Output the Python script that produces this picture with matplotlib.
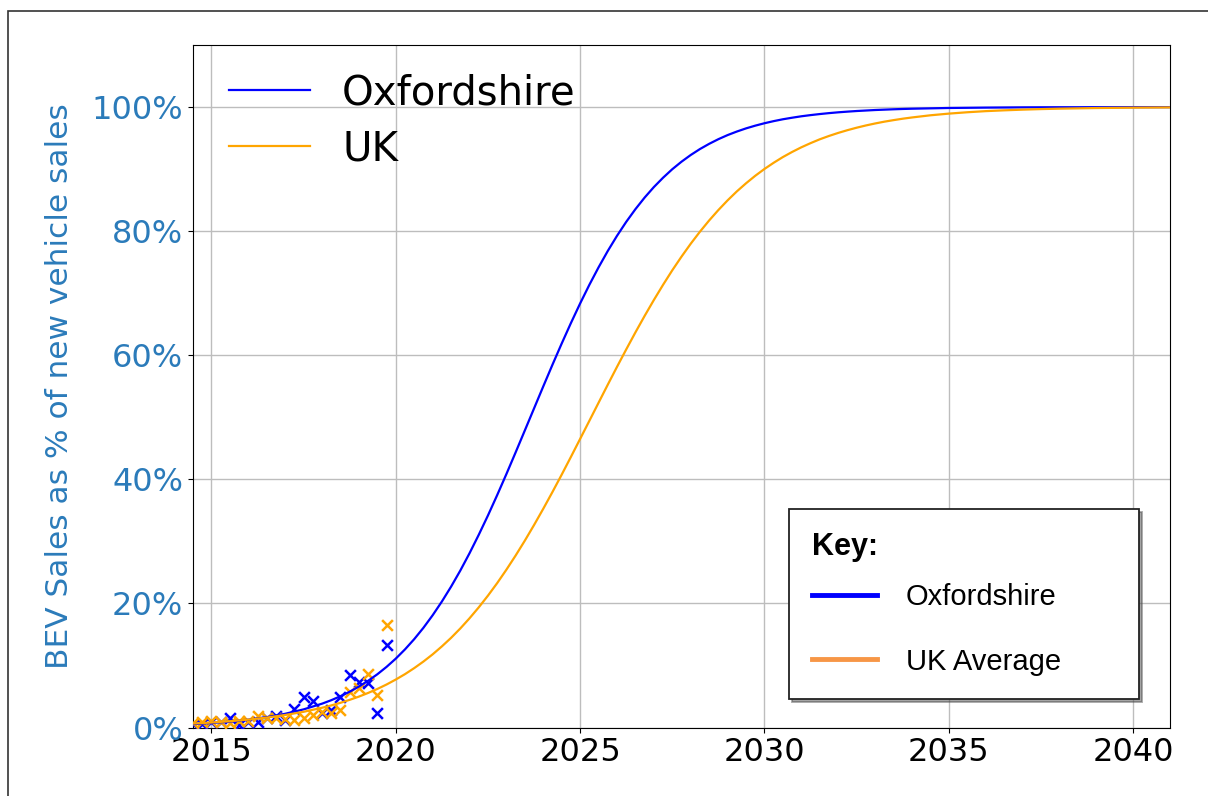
import matplotlib
matplotlib.use('Agg')
import matplotlib.pyplot as plt
from matplotlib.lines import Line2D
from matplotlib.patches import Rectangle
from matplotlib.ticker import PercentFormatter

# fitted S-curves (% of new vehicle sales)
curve_years = [2014.5, 2015.0, 2015.5, 2016.0, 2016.5, 2017.0, 2017.5, 2018.0,
               2018.25, 2018.5, 2018.75, 2019.0, 2019.25, 2019.5, 2019.75, 2020.0,
               2020.25, 2020.5, 2020.75, 2021.0, 2021.25, 2021.5, 2021.75, 2022.0,
               2022.25, 2022.5, 2022.75, 2023.0, 2023.25, 2023.5, 2023.75, 2024.0,
               2024.25, 2024.5, 2024.75, 2025.0, 2025.25, 2025.5, 2025.75, 2026.0,
               2026.25, 2026.5, 2026.75, 2027.0, 2027.25, 2027.5, 2027.75, 2028.0,
               2028.25, 2028.5, 2028.75, 2029.0, 2029.25, 2029.5, 2029.75, 2030.0,
               2030.25, 2030.5, 2030.75, 2031.0, 2031.25, 2031.5, 2031.75, 2032.0,
               2032.25, 2032.5, 2032.75, 2033.0, 2033.25, 2033.5, 2033.75, 2034.0,
               2034.5, 2035.0, 2035.5, 2036.0, 2036.5, 2037.0, 2037.5, 2038.0,
               2038.5, 2039.0, 2039.5, 2040.0, 2040.5, 2041.0]
oxon_curve = [0.54, 0.72, 0.95, 1.26, 1.67, 2.21, 2.92, 3.84,
              4.40, 5.04, 5.77, 6.60, 7.53, 8.58, 9.77, 11.10,
              12.59, 14.24, 16.07, 18.09, 20.30, 22.70, 25.29, 28.08,
              31.05, 34.17, 37.45, 40.84, 44.33, 47.87, 51.42, 54.97,
              58.47, 61.88, 65.18, 68.34, 71.34, 74.16, 76.80, 79.24,
              81.49, 83.54, 85.41, 87.10, 88.61, 89.98, 91.19, 92.27,
              93.23, 94.07, 94.82, 95.48, 96.05, 96.56, 97.00, 97.39,
              97.73, 98.03, 98.28, 98.51, 98.70, 98.87, 99.02, 99.15,
              99.26, 99.36, 99.44, 99.52, 99.58, 99.64, 99.69, 99.73,
              99.79, 99.85, 99.88, 99.91, 99.93, 99.95, 99.96, 99.97,
              99.97, 99.98, 99.98, 99.99, 99.99, 99.99]
uk_curve = [0.63, 0.80, 1.01, 1.27, 1.60, 2.02, 2.53, 3.18,
            3.56, 3.98, 4.46, 4.98, 5.57, 6.21, 6.93, 7.73,
            8.60, 9.57, 10.63, 11.79, 13.07, 14.45, 15.96, 17.60,
            19.36, 21.25, 23.27, 25.43, 27.71, 30.11, 32.63, 35.25,
            37.96, 40.75, 43.61, 46.51, 49.42, 52.34, 55.25, 58.12,
            60.93, 63.68, 66.34, 68.90, 71.35, 73.69, 75.89, 77.97,
            79.91, 81.72, 83.40, 84.96, 86.40, 87.71, 88.92, 90.02,
            91.02, 91.94, 92.76, 93.51, 94.18, 94.80, 95.34, 95.83,
            96.27, 96.67, 97.03, 97.35, 97.64, 97.89, 98.12, 98.32,
            98.67, 98.94, 99.16, 99.34, 99.47, 99.58, 99.67, 99.74,
            99.79, 99.84, 99.87, 99.90, 99.92, 99.94]

# quarterly observed shares
obs_years = [2014.5, 2014.75, 2015.0, 2015.25, 2015.5, 2015.75, 2016.0, 2016.25,
             2016.5, 2016.75, 2017.0, 2017.25, 2017.5, 2017.75, 2018.0, 2018.25,
             2018.5, 2018.75, 2019.0, 2019.25, 2019.5, 2019.75]
oxon_obs = [0.5, 0.6, 0.9, 0.9, 1.6, 0.4, 0.9, 0.9, 1.5, 1.8, 1.2,
            3.0, 4.9, 4.2, 2.4, 2.8, 4.9, 8.5, 7.4, 7.1, 2.4, 13.3]
uk_obs = [0.8, 0.9, 1.0, 0.9, 0.8, 1.0, 1.1, 1.9, 1.6, 1.5, 1.4,
          1.2, 1.5, 2.0, 2.5, 2.3, 2.8, 5.8, 6.3, 8.6, 5.2, 16.6]

x_ticks = [2015, 2020, 2025, 2030, 2035, 2040]
y_ticks = [0, 20, 40, 60, 80, 100]

W, H = 1208, 796
fig = plt.figure(figsize=(W / 100, H / 100), dpi=100)
ax = fig.add_axes([193 / W, 1 - 727.5 / H, 977 / W, 682.5 / H])

ax.scatter(obs_years, oxon_obs, marker='x', color='blue', s=60, linewidths=1.8, zorder=3)
ax.scatter(obs_years, uk_obs, marker='x', color='orange', s=60, linewidths=1.8, zorder=3)
l1, = ax.plot(curve_years, oxon_curve, color='blue', lw=1.6, label='Oxfordshire', zorder=4)
l2, = ax.plot(curve_years, uk_curve, color='orange', lw=1.6, label='UK', zorder=4)

ax.set_xlim(2014.5, 2041)
ax.set_ylim(0, 110)
ax.set_xticks(x_ticks)
ax.set_yticks(y_ticks)
ax.yaxis.set_major_formatter(PercentFormatter(100, decimals=0))
ax.grid(True, color='#bdbdbd', lw=1.0)
ax.set_axisbelow(True)
ax.tick_params(axis='x', labelsize=23)
ax.tick_params(axis='y', labelsize=23, labelcolor='#2b7bba')
ax.set_ylabel('BEV Sales as % of new vehicle sales', fontsize=22.5, color='#2b7bba', labelpad=12.5)

leg1 = ax.legend(handles=[l1, l2], loc='upper left', bbox_to_anchor=(0, 1 + 8 / 682.5),
                 fontsize=29, frameon=False, labelspacing=0.4)
ax.add_artist(leg1)

key_handles = [Line2D([], [], color='#0000ff', lw=3.5),
               Line2D([], [], color='#f79646', lw=3.5)]
key = ax.legend(key_handles, ['Oxfordshire', 'UK Average'],
                loc='lower left', bbox_to_anchor=((789 - 193) / 977, (727.5 - 699) / 682.5, 350 / 977, 0.2),
                mode='expand', borderaxespad=0, title='Key:', alignment='left',
                prop={'family': 'Liberation Sans', 'size': 21},
                title_fontproperties={'family': 'Liberation Sans', 'size': 22, 'weight': 'bold'},
                handlelength=2.2, handletextpad=1.0, borderpad=0.8, labelspacing=1.26,
                fancybox=False, shadow=True, framealpha=1, edgecolor='#222222')
key.get_frame().set_linewidth(1.3)
# tighter gap between the "Key:" title and the entries than between entries
key._legend_box.sep = 15

# outer border of the original screenshot
fig.add_artist(Rectangle((8 / W, -0.1), 1.2, 1.1 - 11 / H, transform=fig.transFigure,
                         fill=False, lw=1.2, ec='#333333'))

fig.savefig('out.png', dpi=100)
